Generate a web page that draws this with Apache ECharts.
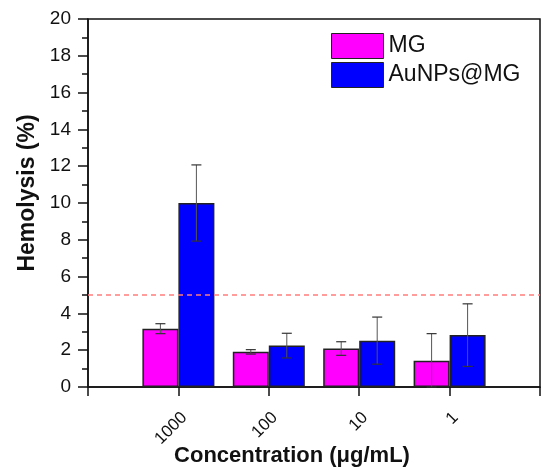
<!DOCTYPE html>
<html>
<head>
<meta charset="utf-8">
<script src="https://cdn.jsdelivr.net/npm/echarts@6/dist/echarts.min.js"></script>
<style>
	html, body { margin: 0; padding: 0; background: #fff; }
	#chart { width: 543px; height: 470px; }
</style>
</head>
<body>
<div id="chart"></div>
<script>
// categories (empty slots at both ends keep the axis span of the original)
var concentrations = ['', '1000', '100', '10', '1', ''];
var mgValues = ['-', 3.17, 1.91, 2.09, 1.42, '-'];
var mgErrors = [0, 0.27, 0.12, 0.37, 1.48, 0];
var auValues = ['-', 10.0, 2.25, 2.52, 2.82, '-'];
var auErrors = [0, 2.07, 0.67, 1.28, 1.7, 0];
var yTicks = [0, 2, 4, 6, 8, 10, 12, 14, 16, 18, 20];
var limitLine = 5;

var barWidth = 36;
var fontFamily = 'Liberation Sans, Arial, sans-serif';

function errorData(values, errors) {
	var out = [];
	for (var i = 0; i < values.length; i++) {
		if (values[i] === '-') continue;
		out.push([i, Math.max(0, values[i] - errors[i]), values[i] + errors[i]]);
	}
	return out;
}

function errorRenderer(shift) {
	return function(params, api) {
		var lo = api.coord([api.value(0), api.value(1)]);
		var hi = api.coord([api.value(0), api.value(2)]);
		var x = lo[0] + shift;
		var cap = 5;
		return {
			type: 'group',
			children: [
				{ type: 'line', shape: { x1: x, y1: hi[1], x2: x, y2: lo[1] },
				  style: { stroke: '#555', lineWidth: 1 } },
				{ type: 'line', shape: { x1: x - cap, y1: hi[1], x2: x + cap, y2: hi[1] },
				  style: { stroke: '#333', lineWidth: 1.2 } },
				{ type: 'line', shape: { x1: x - cap, y1: lo[1], x2: x + cap, y2: lo[1] },
				  style: { stroke: '#333', lineWidth: 1.2 } }
			]
		};
	};
}

var chart = echarts.init(document.getElementById('chart'));
var option = {
	backgroundColor: '#fff',
	animation: false,
	grid: {
		left: 88, right: 3, top: 19, bottom: 83,
		outerBoundsMode: 'none',
		containLabel: false,
		show: true, borderColor: '#111', borderWidth: 1.5
	},
	legend: {
		orient: 'vertical',
		left: 331, top: 33,
		padding: 0,
		icon: 'rect',
		itemWidth: 52, itemHeight: 25, itemGap: 3,
		data: ['MG', 'AuNPs@MG'],
		textStyle: { fontFamily: fontFamily, fontSize: 23, color: '#111' },
		itemStyle: { borderColor: '#222', borderWidth: 1 }
	},
	xAxis: {
		type: 'category',
		data: concentrations,
		boundaryGap: false,
		name: 'Concentration (\u03bcg/mL)',
		nameLocation: 'middle',
		nameGap: 58,
		nameMoveOverlap: false,
		nameTextStyle: {
			fontFamily: fontFamily, fontSize: 22, fontWeight: 'bold', color: '#111',
			padding: [0, 44, 0, 0]
		},
		axisLine: { lineStyle: { color: '#111', width: 1.5 } },
		axisTick: { show: true, length: 9, lineStyle: { color: '#111', width: 1.5 } },
		axisLabel: {
			rotate: 45, margin: 22, interval: 0, verticalAlign: 'top',
			fontFamily: fontFamily, fontSize: 17, color: '#111'
		},
		splitLine: { show: false }
	},
	yAxis: {
		type: 'value',
		min: 0, max: yTicks[yTicks.length - 1], interval: yTicks[1] - yTicks[0],
		name: 'Hemolysis (%)',
		nameLocation: 'middle',
		nameGap: 49,
		nameTextStyle: {
			fontFamily: fontFamily, fontSize: 23, fontWeight: 'bold', color: '#111',
			padding: [0, 0, 0, 20]
		},
		axisLine: { show: true, lineStyle: { color: '#111', width: 1.5 } },
		axisTick: { show: true, length: 10, lineStyle: { color: '#111', width: 1.5 } },
		minorTick: { show: true, splitNumber: 2, length: 6, lineStyle: { color: '#111', width: 1.5 } },
		axisLabel: { margin: 17, fontFamily: fontFamily, fontSize: 19, color: '#111' },
		splitLine: { show: false }
	},
	series: [
		{
			name: 'MG',
			type: 'bar',
			data: mgValues,
			barWidth: barWidth,
			barGap: '0%',
			itemStyle: { color: '#ff00ff', borderColor: '#222', borderWidth: 1.5 },
			markLine: {
				silent: true,
				symbol: 'none',
				label: { show: false },
				lineStyle: { color: '#ff7c7c', type: [5, 4], width: 1.5 },
				data: [{ yAxis: limitLine }]
			},
			z: 2
		},
		{
			name: 'AuNPs@MG',
			type: 'bar',
			data: auValues,
			barWidth: barWidth,
			barGap: '0%',
			itemStyle: { color: '#0000ff', borderColor: '#222', borderWidth: 1.5 },
			z: 2
		},
		{
			type: 'custom',
			data: errorData(mgValues, mgErrors),
			renderItem: errorRenderer(-barWidth / 2),
			z: 5,
			silent: true
		},
		{
			type: 'custom',
			data: errorData(auValues, auErrors),
			renderItem: errorRenderer(barWidth / 2),
			z: 5,
			silent: true
		}
	]
};
chart.setOption(option);
</script>
</body>
</html>
